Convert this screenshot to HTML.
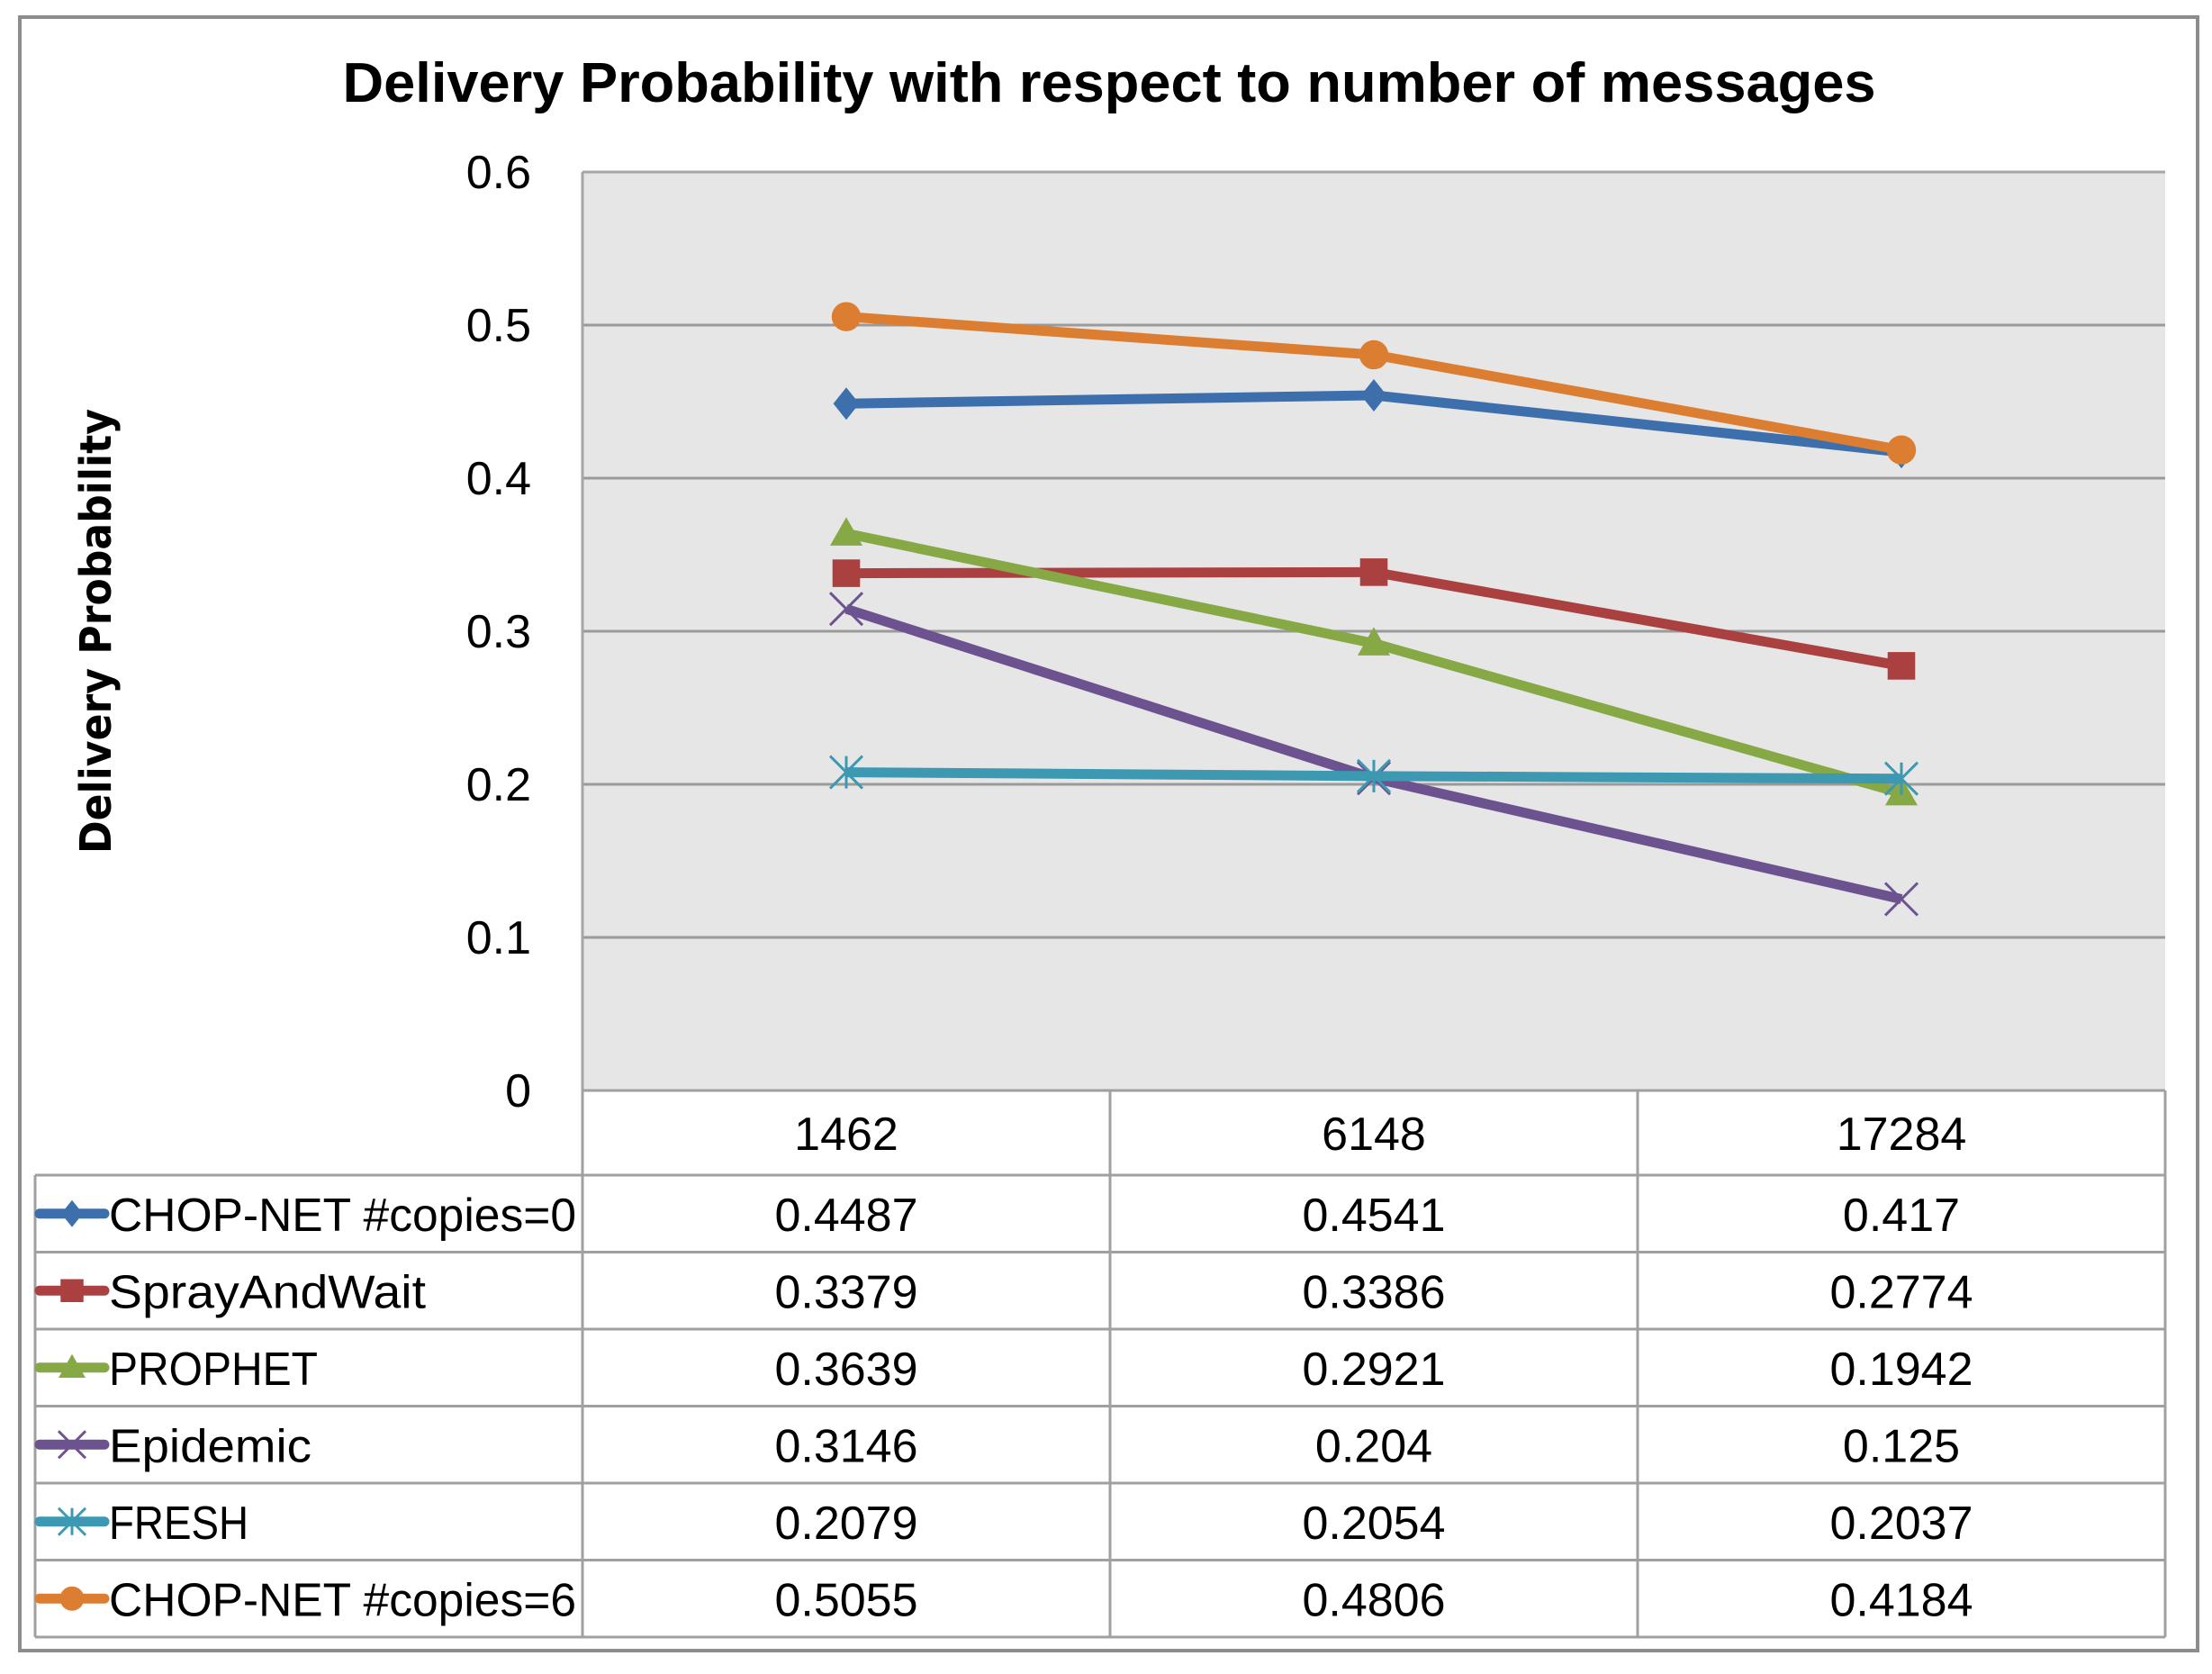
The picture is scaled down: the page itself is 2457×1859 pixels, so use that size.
<!DOCTYPE html>
<html><head><meta charset="utf-8"><style>
html,body{margin:0;padding:0;background:#fff;}
svg{display:block;}
text{font-family:"Liberation Sans",sans-serif;fill:#000;}
</style></head><body>
<svg id="chart" width="2457" height="1859" viewBox="0 0 2457 1859" xmlns="http://www.w3.org/2000/svg">
<rect x="22" y="19" width="2419" height="1814" fill="#fff" stroke="#8c8c8c" stroke-width="4"/>
<text x="1232" y="113" text-anchor="middle" font-size="62" font-weight="bold" textLength="1703" lengthAdjust="spacingAndGlyphs">Delivery Probability with respect to number of messages</text>
<text transform="translate(123,701) rotate(-90)" text-anchor="middle" font-size="48" font-weight="bold" style="font-family:'DejaVu Sans',sans-serif" textLength="494" lengthAdjust="spacingAndGlyphs">Delivery Probability</text>
<rect x="647" y="191" width="1758" height="1020" fill="#e6e6e6"/>
<g id="grid"></g>
<g id="series"></g>
<g id="table"></g>
</svg>
<script>
const categories = ["1462","6148","17284"];
const seriesNames = ["CHOP-NET #copies=0","SprayAndWait","PROPHET","Epidemic","FRESH","CHOP-NET #copies=6"];
const chopnet0 = [0.4487,0.4541,0.417];
const sprayAndWait = [0.3379,0.3386,0.2774];
const prophet = [0.3639,0.2921,0.1942];
const epidemic = [0.3146,0.204,0.125];
const fresh = [0.2079,0.2054,0.2037];
const chopnet6 = [0.5055,0.4806,0.4184];
const yTicks = [0,0.1,0.2,0.3,0.4,0.5,0.6];

const NS="http://www.w3.org/2000/svg";
const allSeries=[chopnet0,sprayAndWait,prophet,epidemic,fresh,chopnet6];
const colors=["#3d6fac","#aa4140","#86a845","#6d5290","#3c99b1","#dc7e32"];
const markers=["diamond","square","triangle","x","star","circle"];
const plotL=647,plotR=2405,plotT=191,plotB=1211,yMax=0.6;
const colW=(plotR-plotL)/categories.length;
function xScale(i){return plotL+colW*(i+0.5);}
function yScale(v){return plotB-(v/yMax)*(plotB-plotT);}
function mk(tag,attrs,parent){const e=document.createElementNS(NS,tag);for(const k in attrs)e.setAttribute(k,attrs[k]);parent.appendChild(e);return e;}

const grid=document.getElementById('grid');
yTicks.forEach(t=>{
  const y=yScale(t);
  if(t>0){const l=mk('line',{x1:plotL,x2:plotR,y1:y,y2:y,stroke:t===0.6?'#a6a6a6':'#9a9a9a','stroke-width':3},grid);
  
  }
  const tx=mk('text',{x:590,y:y+18,'text-anchor':'end','font-size':52},grid);
  tx.textContent=String(t);
  
  
});
const ax=mk('line',{x1:plotL,x2:plotL,y1:plotT,y2:plotB,stroke:'#a6a6a6','stroke-width':3},grid);



function drawMarker(type,cx,cy,s,color,parent){
  let e;
  if(type==='diamond') e=mk('polygon',{points:`${cx},${cy-s} ${cx+s*0.8},${cy} ${cx},${cy+s} ${cx-s*0.8},${cy}`,fill:color},parent);
  else if(type==='square') e=mk('rect',{x:cx-s*0.85,y:cy-s*0.85,width:s*1.7,height:s*1.7,fill:color},parent);
  else if(type==='triangle') e=mk('polygon',{points:`${cx},${cy-s} ${cx+s},${cy+s*0.75} ${cx-s},${cy+s*0.75}`,fill:color},parent);
  else if(type==='circle') e=mk('circle',{cx:cx,cy:cy,r:s*0.9,fill:color},parent);
  else if(type==='x') e=mk('path',{d:`M${cx-s},${cy-s}L${cx+s},${cy+s}M${cx-s},${cy+s}L${cx+s},${cy-s}`,stroke:color,'stroke-width':3,fill:'none'},parent);
  else e=mk('path',{d:`M${cx-s},${cy-s}L${cx+s},${cy+s}M${cx-s},${cy+s}L${cx+s},${cy-s}M${cx},${cy-s}L${cx},${cy+s}`,stroke:color,'stroke-width':3,fill:'none'},parent);
  return e;
}

const sg=document.getElementById('series');
allSeries.forEach((vals,si)=>{
  const g=mk('g',{},sg);
  
  
  const pts=vals.map((v,i)=>xScale(i)+','+yScale(v)).join(' ');
  const pl=mk('polyline',{points:pts,fill:'none',stroke:colors[si],'stroke-width':11,'stroke-linejoin':'round'},g);
  
  
  vals.forEach((v,i)=>{
    const m=drawMarker(markers[si],xScale(i),yScale(v),18,colors[si],g);
    
    
  });
});

const tb=document.getElementById('table');
const headerTop=1211,headerBot=1305,rowH=(1818-1305)/6,tableL=39;
function hline(x1,x2,y){const l=mk('line',{x1:x1,x2:x2,y1:y,y2:y,stroke:'#a0a0a0','stroke-width':3},tb);
  
  }
function vline(x,y1,y2){const l=mk('line',{x1:x,x2:x,y1:y1,y2:y2,stroke:'#a0a0a0','stroke-width':3},tb);
  
  }
for(let c=0;c<=categories.length;c++){vline(plotL+colW*c,headerTop,1818);}
vline(tableL,headerBot,1818);
hline(plotL,plotR,headerTop);
hline(tableL,plotR,headerBot);
for(let r=1;r<=6;r++){hline(tableL,plotR,headerBot+rowH*r);}
categories.forEach((c,i)=>{
  const t=mk('text',{x:xScale(i),y:(headerTop+headerBot)/2+19,'text-anchor':'middle','font-size':52},tb);
  t.textContent=c;
  
  
});
const labelWidths=[519,352,232,225,155,519];
allSeries.forEach((vals,si)=>{
  const cy=headerBot+rowH*(si+0.5);
  const ll=mk('line',{x1:44,x2:116,y1:cy,y2:cy,stroke:colors[si],'stroke-width':11,'stroke-linecap':'round'},tb);
  
  
  const lm=drawMarker(markers[si],80,cy,15,colors[si],tb);
  
  
  const lt=mk('text',{x:121,y:cy+19,'font-size':52,textLength:labelWidths[si],lengthAdjust:'spacingAndGlyphs'},tb);
  lt.textContent=seriesNames[si];
  
  
  vals.forEach((v,i)=>{
    const t=mk('text',{x:xScale(i),y:cy+19,'text-anchor':'middle','font-size':52},tb);
    t.textContent=String(v);
    
    
  });
});
</script>
</body></html>
